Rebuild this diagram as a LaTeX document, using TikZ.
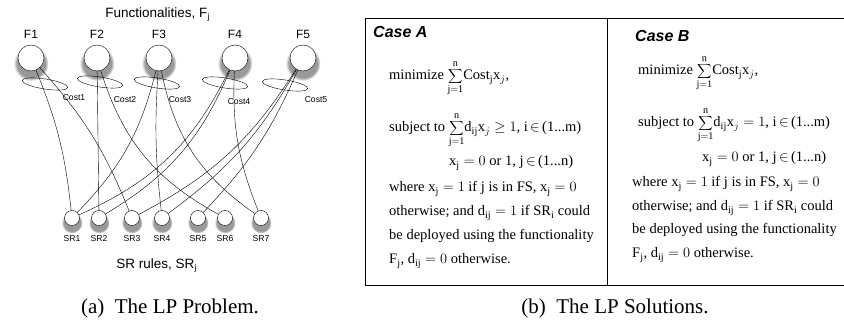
\documentclass[tikz,border=0pt]{standalone}
\usepackage{fontspec}
\setmainfont{Liberation Serif}
\setsansfont{Liberation Sans}
\usetikzlibrary{positioning, shapes.geometric, shadows, fadings}

\tikzset{
  func/.style={circle, draw, fill=white, minimum size=26pt, inner sep=0pt,
    circular drop shadow={shadow xshift=0pt, shadow yshift=-4pt, shadow scale=1.35, fill=black!40,
      path fading={circle with fuzzy edge 20 percent}}},
  srnode/.style={circle, draw, fill=white, minimum size=15pt, inner sep=0pt,
    circular drop shadow={shadow xshift=0pt, shadow yshift=-3.5pt, shadow scale=1.4, fill=black!40,
      path fading={circle with fuzzy edge 20 percent}}},
  costring/.style={ellipse, draw, minimum width=46pt, minimum height=10pt, inner sep=0pt, rotate=-9},
  flabel/.style={font=\sffamily\fontsize{12}{14}\selectfont, inner sep=0pt},
  tinylabel/.style={font=\sffamily\fontsize{8.6}{10}\selectfont, inner sep=0pt},
  bigtitle/.style={font=\sffamily\fontsize{13.5}{16}\selectfont, inner sep=0pt},
  lpline/.style={anchor=base west, inner sep=0pt, font=\fontsize{14.5}{17}\selectfont},
  casehead/.style={anchor=base west, inner sep=0pt, font=\sffamily\bfseries\itshape\fontsize{16}{18}\selectfont},
  subcap/.style={font=\fontsize{21}{25}\selectfont, inner sep=0pt}
}

\newcommand{\lpsum}{\smash{\displaystyle\sum_{\scriptstyle\mathrm{j=1}}^{\scriptstyle\mathrm{n}}}}

\begin{document}
\begin{tikzpicture}[x=1pt, y=1pt]
\clip (0,0) rectangle (844,321);

\node[bigtitle] (ftitle) at (158,306) {Functionalities, F$_{\mathrm{j}}$};

\node[func] (f1) at (31,263) {};
\node[func] (f2) at (97,263) {};
\node[func] (f3) at (159,263) {};
\node[func] (f4) at (235,263) {};
\node[func] (f5) at (303,263) {};

\node[flabel, above=6pt of f1] (f1l) {F1};
\node[flabel, above=6pt of f2] (f2l) {F2};
\node[flabel, above=6pt of f3] (f3l) {F3};
\node[flabel, above=6pt of f4] (f4l) {F4};
\node[flabel, above=6pt of f5] (f5l) {F5};

\node[costring] (c1) at (45,237) {};
\node[costring] (c2) at (100,239) {};
\node[costring] (c3) at (157,238) {};
\node[costring] (c4) at (225,238) {};
\node[costring] (c5) at (285,236) {};

\node[tinylabel] (c1l) at (74,223) {Cost1};
\node[tinylabel] (c2l) at (125,221) {Cost2};
\node[tinylabel] (c3l) at (180,221) {Cost3};
\node[tinylabel] (c4l) at (239,219) {Cost4};
\node[tinylabel] (c5l) at (316,221) {Cost5};

\node[srnode] (sr1) at (72,103) {};
\node[srnode] (sr2) at (99,103) {};
\node[srnode] (sr3) at (132,103) {};
\node[srnode] (sr4) at (162,103) {};
\node[srnode] (sr5) at (198,103) {};
\node[srnode] (sr6) at (225,103) {};
\node[srnode] (sr7) at (261,103) {};

\node[tinylabel, below=10pt of sr1] (sr1l) {SR1};
\node[tinylabel, below=10pt of sr2] (sr2l) {SR2};
\node[tinylabel, below=10pt of sr3] (sr3l) {SR3};
\node[tinylabel, below=10pt of sr4] (sr4l) {SR4};
\node[tinylabel, below=10pt of sr5] (sr5l) {SR5};
\node[tinylabel, below=10pt of sr6] (sr6l) {SR6};
\node[tinylabel, below=10pt of sr7] (sr7l) {SR7};

\node[bigtitle] (srtitle) at (157,55) {SR rules, SR$_{\mathrm{j}}$};

\draw
    (f1) edge[bend left=8] (sr1)
    (f1) edge[bend left=10] (sr3)
    (f2) edge (sr2)
    (f2) edge[bend right=22] (sr6)
    (f3) edge[bend left=15] (sr1)
    (f3) edge[bend right=5] (sr4)
    (f3) edge[bend right=22] (sr7)
    (f4) edge[bend left=20] (sr1)
    (f4) edge[bend left=18] (sr2)
    (f4) edge[bend right=12] (sr7)
    (f5) edge[bend left=15] (sr3)
    (f5) edge[bend left=12] (sr4)
    (f5) edge[bend left=10] (sr5)
    ;

\node[subcap] (capa) at (170,13) {(a)\enspace The LP Problem.};

\draw (365,36) rectangle (870,303);
\coordinate (divtop) at (607,303);
\coordinate (divbot) at (607,36);
\draw (divtop) -- (divbot);

\node[casehead] (casea) at (373,283) {Case A};
\node[lpline] (a1) at (389,241) {minimize $\lpsum\mathrm{Cost}_{\mathrm{j}}\mathrm{x}_{j}$,};
\node[lpline] (a2) at (389,189) {subject to $\lpsum\mathrm{d}_{\mathrm{ij}}\mathrm{x}_{j}\geq 1$, i$\,\in\,$(1...m)};
\node[lpline] (a3) at (449,155) {$\mathrm{x}_{\mathrm{j}}=0$ or 1, j$\,\in\,$(1...n)};
\node[lpline] (a4) at (389,129) {where $\mathrm{x}_{\mathrm{j}}=1$ if j is in FS, $\mathrm{x}_{\mathrm{j}}=0$};
\node[lpline] (a5) at (389,105) {otherwise; and $\mathrm{d}_{\mathrm{ij}}=1$ if SR$_{\mathrm{i}}$ could};
\node[lpline] (a6) at (389,81) {be deployed using the functionality};
\node[lpline] (a7) at (389,57) {F$_{\mathrm{j}}$, $\mathrm{d}_{\mathrm{ij}}=0$ otherwise.};

\node[casehead] (caseb) at (635,279) {Case B};
\node[lpline] (b1) at (638,246) {minimize $\lpsum\mathrm{Cost}_{\mathrm{j}}\mathrm{x}_{j}$,};
\node[lpline] (b2) at (638,194) {subject to $\lpsum\mathrm{d}_{\mathrm{ij}}\mathrm{x}_{j}=1$, i$\,\in\,$(1...m)};
\node[lpline] (b3) at (702,159) {$\mathrm{x}_{\mathrm{j}}=0$ or 1, j$\,\in\,$(1...n)};
\node[lpline] (b4) at (632,134) {where $\mathrm{x}_{\mathrm{j}}=1$ if j is in FS, $\mathrm{x}_{\mathrm{j}}=0$};
\node[lpline] (b5) at (632,110) {otherwise; and $\mathrm{d}_{\mathrm{ij}}=1$ if SR$_{\mathrm{i}}$ could};
\node[lpline] (b6) at (632,87) {be deployed using the functionality};
\node[lpline] (b7) at (632,63) {F$_{\mathrm{j}}$, $\mathrm{d}_{\mathrm{ij}}=0$ otherwise.};

\node[subcap] (capb) at (615,13) {(b)\enspace The LP Solutions.};
\end{tikzpicture}
\end{document}
